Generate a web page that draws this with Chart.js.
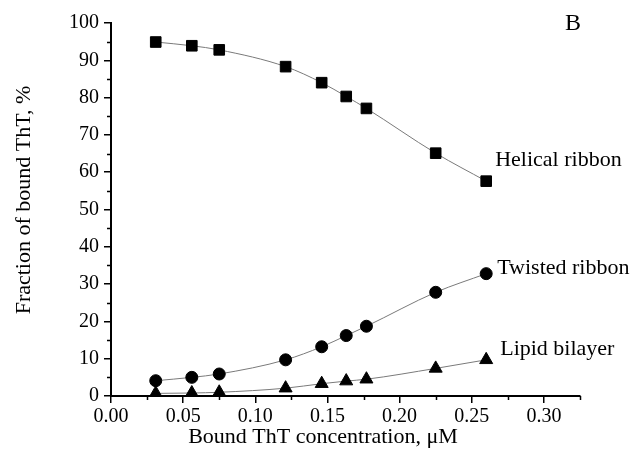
<!DOCTYPE html>
<html>
<head>
<meta charset="utf-8">
<script src="https://cdn.jsdelivr.net/npm/chart.js@4/dist/chart.umd.min.js"></script>
<style>
html,body{margin:0;padding:0;background:#fff;}
#wrap{width:635px;height:460px;position:relative;}
</style>
</head>
<body>
<div id="wrap"><canvas id="c" width="635" height="460"></canvas></div>
<script>
const concentration = [0.031, 0.056, 0.075, 0.121, 0.146, 0.163, 0.177, 0.225, 0.260];
const helicalRibbon = [94.9, 93.9, 92.8, 88.3, 84.0, 80.3, 77.1, 65.1, 57.6];
const twistedRibbon = [4.1, 5.0, 5.9, 9.7, 13.2, 16.2, 18.7, 27.8, 32.8];
const lipidBilayer = [0.7, 0.8, 1.0, 2.1, 3.3, 4.0, 4.5, 7.4, 9.7];
const seriesNames = ["Helical ribbon", "Twisted ribbon", "Lipid bilayer"];
const xTickValues = [0, 0.05, 0.10, 0.15, 0.20, 0.25, 0.30];
const yTickValues = [0, 10, 20, 30, 40, 50, 60, 70, 80, 90, 100];
const xMinorTicks = [0.025, 0.075, 0.125, 0.175, 0.225, 0.275, 0.325];
const yMinorTicks = [5, 15, 25, 35, 45, 55, 65, 75, 85, 95];
const xTitle = "Bound ThT concentration, \u03BCM";
const yTitle = "Fraction of bound ThT, %";
const panelLabel = "B";

const FONT = "'Liberation Serif', 'Times New Roman', serif";

function pts(ys){ return concentration.map((x,i)=>({x:x, y:ys[i]})); }

const labelOffsets = [[9,-21],[11,-5],[14,-11]];

const decor = {
  id: 'decor',
  afterDraw(chart){
    const ctx = chart.ctx;
    const xs = chart.scales.x, ys = chart.scales.y;
    const ca = chart.chartArea;
    ctx.save();
    ctx.strokeStyle = '#000';
    ctx.lineWidth = 1.5;
    ctx.beginPath();
    yMinorTicks.forEach(v=>{
      const py = Math.round(ys.getPixelForValue(v))+0.5;
      ctx.moveTo(ca.left, py); ctx.lineTo(ca.left-4, py);
    });
    xMinorTicks.forEach(v=>{
      const px = Math.round(xs.getPixelForValue(v))+0.5;
      ctx.moveTo(px, ca.bottom); ctx.lineTo(px, ca.bottom+4);
    });
    ctx.stroke();

    ctx.fillStyle = '#000';
    // series labels anchored at last point
    ctx.font = '22px ' + FONT;
    ctx.textAlign = 'left';
    ctx.textBaseline = 'middle';
    chart.data.datasets.forEach((ds,i)=>{
      const meta = chart.getDatasetMeta(i);
      const last = meta.data[meta.data.length-1];
      ctx.fillText(seriesNames[i], last.x + labelOffsets[i][0], last.y + labelOffsets[i][1]);
    });
    // panel label
    ctx.font = '24px ' + FONT;
    ctx.fillText(panelLabel, 565, 24);
    // axis titles
    ctx.font = '22px ' + FONT;
    ctx.textAlign = 'center';
    ctx.fillText(xTitle, 323, 437);
    ctx.translate(24, 200);
    ctx.rotate(-Math.PI/2);
    ctx.fillText(yTitle, 0, 0);
    ctx.restore();
  }
};

const common = {
  borderColor: '#7a7a7a',
  borderWidth: 1,
  pointBackgroundColor: '#000',
  pointBorderColor: '#000',
  pointBorderWidth: 1,
  cubicInterpolationMode: 'monotone',
  showLine: true,
  fill: false
};

new Chart(document.getElementById('c'), {
  type: 'scatter',
  data: {
    datasets: [
      Object.assign({label: seriesNames[0], data: pts(helicalRibbon), pointStyle: 'rect', pointRadius: 7.5}, common),
      Object.assign({label: seriesNames[1], data: pts(twistedRibbon), pointStyle: 'circle', pointRadius: 6}, common),
      Object.assign({label: seriesNames[2], data: pts(lipidBilayer), pointStyle: 'triangle', pointRadius: 7.5}, common)
    ]
  },
  options: {
    responsive: false,
    animation: false,
    devicePixelRatio: 1,
    layout: { padding: { left: 0, top: 23, right: 55, bottom: 0 } },
    plugins: { legend: { display: false }, tooltip: { enabled: false } },
    scales: {
      x: {
        type: 'linear', min: 0, max: 0.325,
        afterFit: s => { s.height = 64; },
        afterBuildTicks: s => { s.ticks = xTickValues.map(v=>({value:v})); },
        ticks: { color: '#000', font: { family: FONT, size: 20 }, padding: 2, maxRotation: 0,
                 callback: v => Number(v).toFixed(2) },
        grid: { display: true, drawOnChartArea: false, drawTicks: true, tickLength: 7, color: '#000', lineWidth: 1.5 },
        border: { display: true, color: '#000', width: 2 }
      },
      y: {
        type: 'linear', min: 0, max: 100,
        afterFit: s => { s.width = 111; },
        afterBuildTicks: s => { s.ticks = yTickValues.map(v=>({value:v})); },
        ticks: { color: '#000', font: { family: FONT, size: 20 }, padding: 5,
                 callback: v => String(v) },
        grid: { display: true, drawOnChartArea: false, drawTicks: true, tickLength: 7, color: '#000', lineWidth: 1.5 },
        border: { display: true, color: '#000', width: 2 }
      }
    }
  },
  plugins: [decor]
});
</script>
</body>
</html>
